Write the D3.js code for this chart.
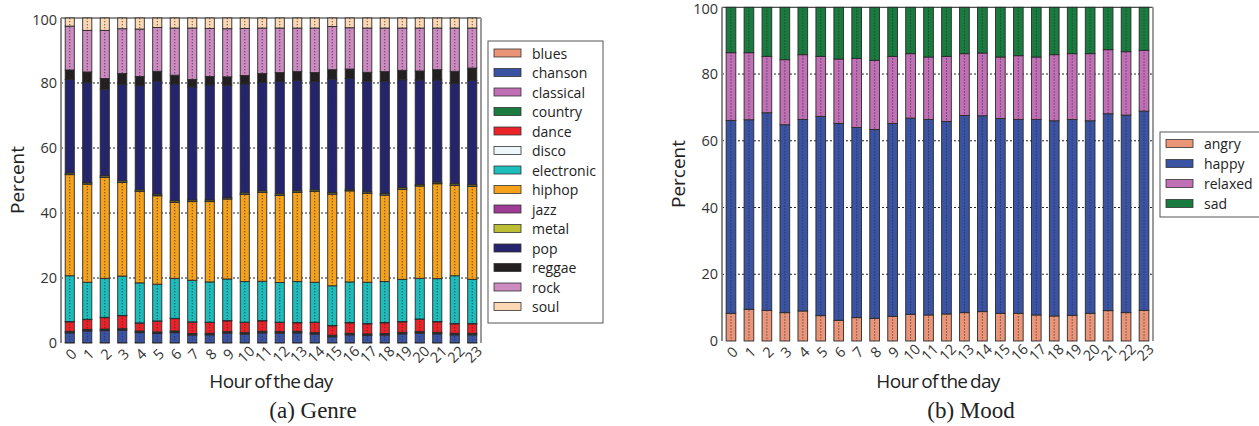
<!DOCTYPE html>
<html>
<head>
<meta charset="utf-8">
<script src="https://cdn.jsdelivr.net/npm/d3@7"></script>
<style>
  html, body { margin: 0; padding: 0; background: #fff; }
  svg { display: block; }
  .tick-label { font-family: "Open Sans", sans-serif; font-size: 14.5px; fill: #333; }
  .axis-title { font-family: "Open Sans", sans-serif; font-size: 19px; fill: #222; }
  .legend-label { font-family: "Open Sans", sans-serif; font-size: 14px; fill: #222; }
  .caption { font-family: "Liberation Serif", "DejaVu Serif", serif; font-size: 23px; fill: #222; }
</style>
</head>
<body>
<svg id="fig" width="1259" height="426"></svg>
<script>
// Hour-of-day categories and percent ticks
const hours = ["0","1","2","3","4","5","6","7","8","9","10","11","12","13","14","15","16","17","18","19","20","21","22","23"];
const percentTicks = [0, 20, 40, 60, 80, 100];

// Genre shares (percent) per hour, stacked bottom to top
const genreNames = ["blues","chanson","classical","country","dance","disco","electronic","hiphop","jazz","metal","pop","reggae","rock","soul"];
const blues      = [0.1,0.1,0.1,0.1,0.1,0.1,0.1,0.1,0.1,0.1,0.1,0.1,0.1,0.1,0.1,0.1,0.1,0.1,0.1,0.1,0.1,0.1,0.1,0.1];
const chanson    = [3.0,3.6,3.7,3.8,3.1,2.8,3.1,2.3,2.4,2.9,2.6,3.0,2.9,3.0,2.6,1.8,2.4,2.2,2.3,2.7,2.9,2.7,2.4,2.4];
const classical  = [0.2,0.2,0.2,0.2,0.2,0.2,0.2,0.2,0.2,0.2,0.2,0.2,0.2,0.2,0.2,0.2,0.2,0.2,0.2,0.2,0.2,0.2,0.2,0.2];
const country    = [0.3,0.3,0.3,0.3,0.3,0.3,0.3,0.3,0.3,0.3,0.3,0.3,0.3,0.3,0.3,0.3,0.3,0.3,0.3,0.3,0.3,0.3,0.3,0.3];
const dance      = [2.9,3.0,3.5,4.0,2.4,3.3,3.8,3.5,3.3,3.3,3.1,3.2,2.8,2.6,3.1,2.9,3.2,3.1,3.3,3.2,3.8,3.2,2.9,2.9];
const disco      = [0.1,0.1,0.1,0.1,0.1,0.1,0.1,0.1,0.1,0.1,0.1,0.1,0.1,0.1,0.1,0.1,0.1,0.1,0.1,0.1,0.1,0.1,0.1,0.1];
const electronic = [14.1,11.4,12.0,12.1,12.3,11.3,12.3,12.8,12.4,12.8,12.5,12.1,12.2,12.6,12.3,12.2,12.5,12.7,12.6,13.0,12.5,13.2,14.7,13.6];
const hiphop     = [31.1,30.2,31.1,28.8,28.1,27.2,23.4,24.2,24.7,24.6,26.8,27.3,26.8,27.4,27.9,28.2,28.0,27.3,26.6,27.7,28.4,29.2,27.8,28.6];
const jazz       = [0.1,0.1,0.1,0.1,0.1,0.1,0.1,0.1,0.1,0.1,0.1,0.1,0.1,0.1,0.1,0.1,0.1,0.1,0.1,0.1,0.1,0.1,0.1,0.1];
const metal      = [0.4,0.4,0.4,0.4,0.4,0.4,0.4,0.4,0.4,0.4,0.4,0.4,0.4,0.4,0.4,0.4,0.4,0.4,0.4,0.4,0.4,0.4,0.4,0.4];
const pop        = [28.8,30.7,26.6,29.7,32.1,34.8,35.9,34.8,35.4,34.5,33.5,33.4,34.6,34.0,33.4,34.9,34.1,34.1,34.5,33.2,32.1,31.4,30.9,32.1];
const reggae     = [2.9,3.3,3.3,3.3,2.8,3.0,2.7,2.3,2.6,2.6,2.6,2.7,2.7,2.7,2.7,2.9,2.9,2.7,3.0,2.9,2.8,3.2,3.7,3.8];
const rock       = [13.5,12.8,14.8,13.8,14.6,13.5,14.5,15.8,14.8,14.8,14.5,14.0,13.7,13.4,13.7,13.3,12.7,13.6,13.4,13.0,13.2,12.8,13.3,12.3];
const soul       = [2.5,3.8,3.8,3.3,3.4,2.9,3.1,3.1,3.2,3.3,3.2,3.1,3.1,3.1,3.1,2.6,3.0,3.1,3.1,3.1,3.1,3.1,3.1,3.1];

// Mood shares (percent) per hour
const moodNames = ["angry","happy","relaxed","sad"];
const angry   = [8.3,9.5,9.2,8.5,9.0,7.6,6.2,7.0,6.8,7.4,8.0,7.8,8.1,8.5,8.8,8.3,8.3,7.8,7.5,7.7,8.3,9.1,8.5,9.2];
const happy   = [57.8,56.8,59.2,56.3,57.4,59.7,59.0,57.0,56.6,57.8,58.8,58.6,57.7,59.1,58.7,58.4,58.1,58.6,58.5,58.7,57.7,59.0,59.2,59.7];
const relaxed = [20.3,20.1,16.9,19.5,19.4,18.0,19.3,20.7,20.7,20.1,19.3,18.7,19.5,18.5,18.8,18.4,19.1,18.7,19.8,19.7,20.1,19.2,19.0,18.2];
const sad     = [13.6,13.6,14.7,15.7,14.2,14.7,15.5,15.3,15.9,14.7,13.9,14.9,14.7,13.9,13.7,14.9,14.5,14.9,14.2,13.9,13.9,12.7,13.3,12.9];

// Palettes
const genreColors = ["#EA9478","#3A54A3","#C270B5","#1A7B3F","#EC2229","#EEF7FA","#1DBDBB","#F6A21B","#9E3B94","#BDBF33","#25246F","#231F20","#CD8BC1","#FDD8B4"];
const moodColors  = ["#EA9478","#3A54A3","#C270B5","#1A7B3F"];

const genreSeries = [blues,chanson,classical,country,dance,disco,electronic,hiphop,jazz,metal,pop,reggae,rock,soul];
const moodSeries  = [angry,happy,relaxed,sad];

const svg = d3.select("#fig");

function buildRows(names, series) {
  return hours.map((h, i) => {
    const row = { hour: h };
    names.forEach((n, k) => { row[n] = series[k][i]; });
    return row;
  });
}

function drawPanel(opt) {
  const g = svg.append("g");
  const x = d3.scaleBand().domain(hours).range([opt.x0, opt.x1])
    .paddingInner(opt.padIn).paddingOuter(opt.padIn / 2);
  const y = d3.scaleLinear().domain([0, 100]).range([opt.yBottom, opt.yTop]);

  // dashed horizontal grid
  g.append("g").selectAll("line")
    .data(percentTicks.filter(t => t > 0 && t < 100))
    .join("line")
    .attr("x1", opt.x0).attr("x2", opt.x1)
    .attr("y1", d => y(d)).attr("y2", d => y(d))
    .attr("stroke", "#222").attr("stroke-width", 1)
    .attr("stroke-dasharray", "2,2");

  // frame: top rule, grey left and right edges
  g.append("line").attr("x1", opt.x0).attr("x2", opt.x1)
    .attr("y1", y(100)).attr("y2", y(100))
    .attr("stroke", "#222").attr("stroke-width", 1);
  g.append("line").attr("x1", opt.x0).attr("x2", opt.x0)
    .attr("y1", y(100)).attr("y2", y(0))
    .attr("stroke", "#8a8a8a").attr("stroke-width", 2);
  g.append("line").attr("x1", opt.x1).attr("x2", opt.x1)
    .attr("y1", y(100)).attr("y2", y(0))
    .attr("stroke", "#9a9a9a").attr("stroke-width", 2);

  // stacked bars
  const rows = buildRows(opt.names, opt.series);
  const stacked = d3.stack().keys(opt.names)(rows);
  const layers = g.append("g").selectAll("g")
    .data(stacked).join("g")
    .attr("fill", (d, k) => opt.colors[k]);
  layers.selectAll("rect")
    .data(d => d)
    .join("rect")
    .attr("x", d => x(d.data.hour))
    .attr("width", x.bandwidth())
    .attr("y", d => y(d[1]))
    .attr("height", d => Math.max(0, y(d[0]) - y(d[1])))
    .attr("stroke", "#2a2a2a")
    .attr("stroke-width", 0.9);

  // dotted centre line on every bar
  g.append("g").selectAll("line")
    .data(hours).join("line")
    .attr("x1", d => x(d) + x.bandwidth() / 2)
    .attr("x2", d => x(d) + x.bandwidth() / 2)
    .attr("y1", y(100)).attr("y2", y(0))
    .attr("stroke", "rgba(40,40,60,0.75)")
    .attr("stroke-width", 1)
    .attr("stroke-dasharray", "1.3,1.7");

  // y axis labels
  const yAxis = d3.axisLeft(y).tickValues(percentTicks).tickSize(0).tickPadding(4);
  const ya = g.append("g").attr("transform", `translate(${opt.x0},0)`).call(yAxis);
  ya.select(".domain").remove();
  ya.selectAll("text").attr("class", "tick-label").attr("font-size", null).attr("font-family", null)
    .attr("dy", d => d === 100 ? "0.42em" : "0.32em");

  // x axis labels, rotated
  const xAxis = d3.axisBottom(x).tickSize(0).tickPadding(0);
  const xa = g.append("g").attr("transform", `translate(0,${opt.yBottom})`).call(xAxis);
  xa.select(".domain").remove();
  xa.selectAll("text")
    .attr("class", "tick-label")
    .attr("font-size", null).attr("font-family", null)
    .attr("dy", null).attr("y", 0)
    .attr("text-anchor", "middle")
    .attr("dominant-baseline", "central")
    .attr("transform", "translate(1,11) rotate(-45)");

  // axis titles
  g.append("text").attr("class", "axis-title")
    .attr("text-anchor", "middle")
    .attr("word-spacing", "-1.5")
    .attr("letter-spacing", "-0.7")
    .attr("x", opt.xTitleX).attr("y", opt.xTitleY)
    .text("Hour of the day");
  g.append("text").attr("class", "axis-title")
    .attr("text-anchor", "middle")
    .attr("transform", `translate(${opt.yTitleX},${opt.yTitleY}) rotate(-90)`)
    .text("Percent");

  // caption
  g.append("text").attr("class", "caption")
    .attr("text-anchor", "middle")
    .attr("x", opt.capX).attr("y", opt.capY)
    .text(opt.caption);

  // legend
  const lg = g.append("g");
  lg.append("rect")
    .attr("x", opt.leg.x).attr("y", opt.leg.y)
    .attr("width", opt.leg.w).attr("height", opt.leg.h)
    .attr("fill", "#fff").attr("stroke", "#555").attr("stroke-width", 1);
  const items = lg.selectAll("g.item").data(opt.names).join("g")
    .attr("class", "item")
    .attr("transform", (d, k) => `translate(${opt.leg.x + 6},${opt.leg.y0 + k * opt.leg.step})`);
  items.append("rect")
    .attr("x", 0).attr("y", -4)
    .attr("width", 27).attr("height", 8)
    .attr("fill", (d, k) => opt.colors[k])
    .attr("stroke", "#333").attr("stroke-width", 0.8);
  items.append("text").attr("class", "legend-label")
    .attr("x", 38).attr("y", 0)
    .attr("dominant-baseline", "central")
    .text(d => d);
}

drawPanel({
  names: genreNames, series: genreSeries, colors: genreColors,
  x0: 61, x1: 481, yTop: 18, yBottom: 343, padIn: 0.48,
  xTitleX: 271, xTitleY: 388, yTitleX: 24, yTitleY: 180,
  capX: 313, capY: 418, caption: "(a) Genre",
  leg: { x: 488, y: 41, w: 115, h: 282, y0: 53, step: 19.5 }
});

drawPanel({
  names: moodNames, series: moodSeries, colors: moodColors,
  x0: 722, x1: 1153, yTop: 7.3, yBottom: 341, padIn: 0.46,
  xTitleX: 938, xTitleY: 388, yTitleX: 685, yTitleY: 174,
  capX: 971, capY: 418, caption: "(b) Mood",
  leg: { x: 1160, y: 132, w: 104, h: 85, y0: 143.5, step: 20 }
});
</script>
</body>
</html>
